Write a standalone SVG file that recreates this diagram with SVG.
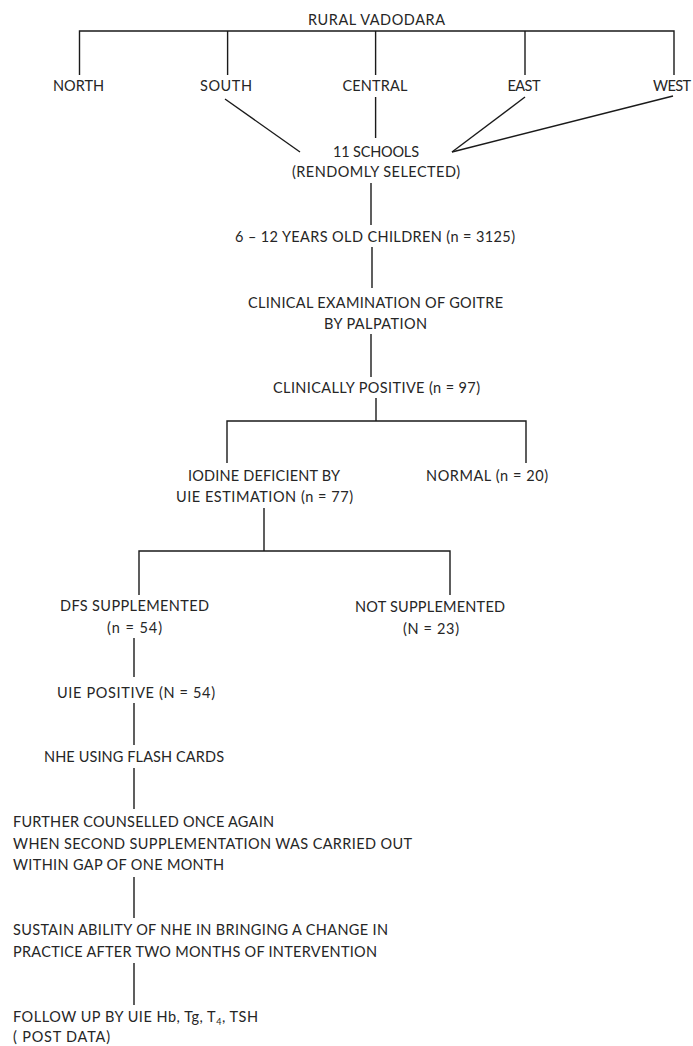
<svg xmlns="http://www.w3.org/2000/svg" width="693" height="1046" viewBox="0 0 693 1046">
<style>
  text { font-family: Lato, "Open Sans", "Liberation Sans", sans-serif; font-size: 14.5px; fill: #262626; }
  .c { text-anchor: middle; }
  .conn line, .conn polyline { stroke: #1a1a1a; stroke-width: 1.4; fill: none; }
</style>
<rect width="693" height="1046" fill="#ffffff"/>
<g id="connectors" class="conn">
  <polyline points="79.5,75 79.5,31 674,31 674,75"/>
  <line x1="227.6" y1="31" x2="227.6" y2="75"/>
  <line x1="375.6" y1="31" x2="375.6" y2="75"/>
  <line x1="525" y1="31" x2="525" y2="75"/>
  <line x1="225" y1="99" x2="300" y2="152"/>
  <line x1="375.6" y1="97" x2="375.6" y2="138"/>
  <line x1="525" y1="97" x2="452" y2="152"/>
  <line x1="673" y1="96" x2="452" y2="152"/>
  <line x1="371" y1="183" x2="371" y2="225"/>
  <line x1="372" y1="247" x2="372" y2="288"/>
  <line x1="371" y1="334" x2="371" y2="377"/>
  <line x1="376" y1="398" x2="376" y2="421"/>
  <polyline points="227,463 227,421 526,421 526,463"/>
  <line x1="264" y1="508" x2="264" y2="551"/>
  <polyline points="139,595 139,551 450,551 450,595"/>
  <line x1="134" y1="638" x2="134" y2="677"/>
  <line x1="134" y1="703" x2="134" y2="745"/>
  <line x1="134" y1="768" x2="134" y2="809"/>
  <line x1="134" y1="877" x2="134" y2="918"/>
  <line x1="134" y1="963" x2="134" y2="1005"/>
</g>
<g id="rural-vadodara"><text class="c" x="376.5" y="25" textLength="137">RURAL VADODARA</text></g>
<g id="north"><text class="c" x="78.5" y="91" textLength="51">NORTH</text></g>
<g id="south"><text class="c" x="226" y="91" textLength="52">SOUTH</text></g>
<g id="central"><text class="c" x="375" y="91" textLength="65">CENTRAL</text></g>
<g id="east"><text class="c" x="524" y="91" textLength="33">EAST</text></g>
<g id="west"><text class="c" x="672" y="91" textLength="38">WEST</text></g>
<g id="schools">
  <text class="c" x="376" y="157" textLength="86">11 SCHOOLS</text>
  <text class="c" x="376" y="177" textLength="168">(RENDOMLY SELECTED)</text>
</g>
<g id="children"><text class="c" x="375" y="242" textLength="280">6 – 12 YEARS OLD CHILDREN (n = 3125)</text></g>
<g id="clinical-exam">
  <text class="c" x="375.5" y="308" textLength="255">CLINICAL EXAMINATION OF GOITRE</text>
  <text class="c" x="375.5" y="329" textLength="103">BY PALPATION</text>
</g>
<g id="clinically-positive"><text class="c" x="376.5" y="393" textLength="207">CLINICALLY POSITIVE (n = 97)</text></g>
<g id="iodine-deficient">
  <text class="c" x="264" y="481" textLength="152">IODINE DEFICIENT BY</text>
  <text class="c" x="264.5" y="502" textLength="177">UIE ESTIMATION (n = 77)</text>
</g>
<g id="normal"><text class="c" x="487" y="481" textLength="122">NORMAL (n = 20)</text></g>
<g id="dfs-supplemented">
  <text class="c" x="134.5" y="611" textLength="149">DFS SUPPLEMENTED</text>
  <text class="c" x="134.5" y="633" textLength="55">(n = 54)</text>
</g>
<g id="not-supplemented">
  <text class="c" x="430" y="612" textLength="150">NOT SUPPLEMENTED</text>
  <text class="c" x="431" y="634" textLength="56">(N = 23)</text>
</g>
<g id="uie-positive"><text class="c" x="136" y="698" textLength="158">UIE POSITIVE (N = 54)</text></g>
<g id="nhe-flash-cards"><text class="c" x="134" y="762" textLength="180">NHE USING FLASH CARDS</text></g>
<g id="further-counselled">
  <text x="13" y="827" textLength="261">FURTHER COUNSELLED ONCE AGAIN</text>
  <text x="13" y="849" textLength="399">WHEN SECOND SUPPLEMENTATION WAS CARRIED OUT</text>
  <text x="13" y="870" textLength="211">WITHIN GAP OF ONE MONTH</text>
</g>
<g id="sustainability">
  <text x="13" y="935" textLength="375">SUSTAIN ABILITY OF NHE IN BRINGING A CHANGE IN</text>
  <text x="13" y="957" textLength="364">PRACTICE AFTER TWO MONTHS OF INTERVENTION</text>
</g>
<g id="follow-up">
  <text x="13" y="1022" textLength="245">FOLLOW UP BY UIE Hb, Tg, T<tspan font-size="9" dy="3">4</tspan><tspan dy="-3">, TSH</tspan></text>
  <text x="13" y="1042" textLength="97">( POST DATA)</text>
</g>
</svg>
